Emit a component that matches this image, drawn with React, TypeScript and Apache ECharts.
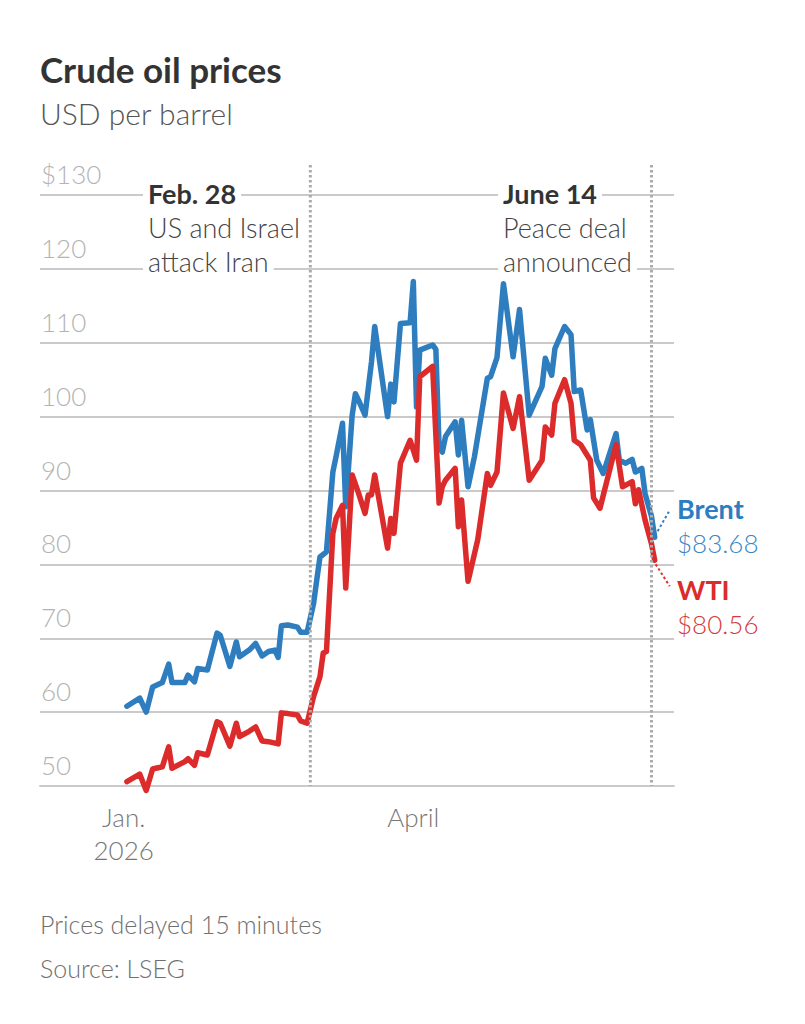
import React, { useEffect, useRef } from "react";
import * as echarts from "echarts";

// ---------- data ----------
const brentDates = [
  "2026-01-02", "2026-01-06", "2026-01-08", "2026-01-10", "2026-01-13", "2026-01-15", "2026-01-16",
  "2026-01-20", "2026-01-21", "2026-01-23", "2026-01-24", "2026-01-27", "2026-01-30", "2026-01-31",
  "2026-02-03", "2026-02-05", "2026-02-06", "2026-02-09", "2026-02-11", "2026-02-13", "2026-02-15",
  "2026-02-17", "2026-02-18", "2026-02-19", "2026-02-21", "2026-02-24", "2026-02-25", "2026-02-27",
  "2026-03-01", "2026-03-02", "2026-03-03", "2026-03-05", "2026-03-07", "2026-03-08", "2026-03-10",
  "2026-03-11", "2026-03-13", "2026-03-14", "2026-03-15", "2026-03-17", "2026-03-19", "2026-03-20",
  "2026-03-24", "2026-03-25", "2026-03-26", "2026-03-28", "2026-03-31", "2026-04-01", "2026-04-02",
  "2026-04-03", "2026-04-07", "2026-04-08", "2026-04-09", "2026-04-10", "2026-04-11", "2026-04-14",
  "2026-04-15", "2026-04-16", "2026-04-18", "2026-04-20", "2026-04-24", "2026-04-25", "2026-04-27",
  "2026-04-29", "2026-05-02", "2026-05-04", "2026-05-07", "2026-05-11", "2026-05-12", "2026-05-14",
  "2026-05-15", "2026-05-18", "2026-05-20", "2026-05-21", "2026-05-23", "2026-05-25", "2026-05-26",
  "2026-05-28", "2026-05-30", "2026-06-03", "2026-06-04", "2026-06-06", "2026-06-08", "2026-06-09",
  "2026-06-11", "2026-06-12", "2026-06-14", "2026-06-15",
];
const brentPrices = [
  60.8, 61.9, 60.0, 63.4, 64.0, 66.5, 64.0,
  64.0, 65.0, 64.1, 65.9, 65.7, 70.7, 70.4,
  66.2, 69.5, 67.5, 68.4, 69.3, 67.6, 68.2,
  68.4, 67.4, 71.7, 71.8, 71.5, 70.8, 70.8,
  74.7, 77.9, 81.0, 81.7, 92.5, 94.6, 99.1,
  87.8, 100.2, 103.1, 102.2, 100.2, 107.4, 112.2,
  100.0, 104.4, 102.0, 112.6, 112.7, 118.3, 101.3,
  109.0, 109.7, 109.1, 95.9, 95.2, 97.3, 99.3,
  94.8, 99.5, 90.5, 94.6, 105.2, 105.4, 108.0,
  118.0, 108.1, 114.5, 100.2, 104.1, 107.9, 105.6,
  109.2, 112.2, 111.1, 103.4, 103.6, 98.2, 99.6,
  94.1, 92.3, 97.7, 94.1, 93.7, 94.2, 92.5,
  93.0, 89.6, 86.5, 83.68,
];

const wtiDates = [
  "2026-01-02", "2026-01-06", "2026-01-08", "2026-01-10", "2026-01-13", "2026-01-15", "2026-01-16",
  "2026-01-20", "2026-01-21", "2026-01-23", "2026-01-24", "2026-01-27", "2026-01-30", "2026-01-31",
  "2026-02-03", "2026-02-05", "2026-02-06", "2026-02-09", "2026-02-11", "2026-02-13", "2026-02-15",
  "2026-02-18", "2026-02-19", "2026-02-21", "2026-02-24", "2026-02-25", "2026-02-27",
  "2026-03-01", "2026-03-03", "2026-03-04", "2026-03-05", "2026-03-07", "2026-03-08", "2026-03-10",
  "2026-03-11", "2026-03-13", "2026-03-15", "2026-03-17", "2026-03-18", "2026-03-19", "2026-03-20",
  "2026-03-24", "2026-03-25", "2026-03-26", "2026-03-28", "2026-03-31", "2026-04-02", "2026-04-03",
  "2026-04-07", "2026-04-09", "2026-04-10", "2026-04-11", "2026-04-14", "2026-04-15", "2026-04-16",
  "2026-04-18", "2026-04-21", "2026-04-24", "2026-04-25", "2026-04-27", "2026-04-29", "2026-05-02",
  "2026-05-04", "2026-05-07", "2026-05-11", "2026-05-12", "2026-05-14", "2026-05-15", "2026-05-18",
  "2026-05-20", "2026-05-21", "2026-05-23", "2026-05-26", "2026-05-27", "2026-05-29", "2026-06-03",
  "2026-06-05", "2026-06-08", "2026-06-09", "2026-06-10", "2026-06-12", "2026-06-14", "2026-06-15",
];
const wtiPrices = [
  50.6, 51.6, 49.4, 52.3, 52.6, 55.3, 52.4,
  53.3, 53.7, 52.8, 54.5, 54.2, 58.7, 58.5,
  55.4, 58.5, 56.7, 57.4, 58.0, 56.1, 56.0,
  55.7, 59.9, 59.8, 59.6, 58.8, 58.5,
  62.1, 64.8, 68.0, 68.2, 84.2, 86.2, 88.0,
  76.8, 92.1, 89.6, 86.9, 89.4, 89.4, 92.1,
  82.2, 86.2, 84.2, 93.7, 96.8, 94.1, 105.4,
  106.8, 88.3, 90.5, 91.4, 93.0, 85.1, 88.7,
  77.7, 83.3, 92.3, 90.7, 92.5, 103.2, 98.4,
  102.7, 91.4, 94.1, 98.6, 97.5, 101.8, 105.0,
  101.8, 96.8, 96.2, 94.1, 89.0, 87.6, 96.2,
  90.5, 91.2, 88.2, 90.1, 86.0, 82.8, 80.56,
];

const xLabelDates = ["2026-01-01", "2026-04-01"];
const xLabelTexts = ["Jan.\n2026", "April"];
const eventDates = ["2026-02-28", "2026-06-14"];
const eventTitles = ["Feb. 28", "June 14"];
const eventLines = [
  ["US and Israel", "attack Iran"],
  ["Peace deal", "announced"],
];
const seriesNames = ["Brent", "WTI"];
const latestLabels = ["$83.68", "$80.56"];

const titleText = "Crude oil prices";
const subtitleText = "USD per barrel";
const footerTexts = ["Prices delayed 15 minutes", "Source: LSEG"];

// ---------- style ----------
const FONT = 'Lato, "Noto Sans", "DejaVu Sans", sans-serif';
const BLUE = "#2e7dbf";
const BLUE_LIGHT = "#3a86c2";
const RED = "#dc2b2b";
const RED_LIGHT = "#d43a3a";
const GRID = "#cacaca";
const eventTextX = [148, 503];

const ts = (d: string) => Date.parse(d + "T00:00:00Z");

export default function App() {
  const ref = useRef<HTMLDivElement>(null);

  useEffect(() => {
    if (!ref.current) return;
    const chart = echarts.init(ref.current, undefined, { renderer: "svg" });

    const xLabelValues = xLabelDates.map(ts);

    chart.setOption({
      animation: false,
      backgroundColor: "#ffffff",
      grid: { left: 40, right: 131, top: 195, bottom: 238, containLabel: false },
      xAxis: {
        type: "value",
        min: ts("2025-12-06"),
        max: ts("2026-06-21"),
        axisLine: { show: true, lineStyle: { color: GRID, width: 2 } },
        axisTick: { show: false },
        splitLine: { show: false },
        axisLabel: {
          customValues: xLabelValues,
          formatter: (v: number) => {
            let best = 0;
            xLabelValues.forEach((t, i) => {
              if (Math.abs(t - v) < Math.abs(xLabelValues[best] - v)) best = i;
            });
            return xLabelTexts[best];
          },
          color: "#777777",
          fontFamily: FONT,
          fontSize: 26,
          fontWeight: 300,
          lineHeight: 33,
          margin: 14,
        },
      },
      yAxis: {
        type: "value",
        min: 50,
        max: 130,
        interval: 10,
        axisLine: { show: false },
        axisTick: { show: false },
        splitLine: { show: true, lineStyle: { color: GRID, width: 2 } },
        axisLabel: {
          inside: true,
          margin: 1,
          verticalAlign: "bottom",
          padding: [0, 0, 8, 0],
          color: "#b3b3b3",
          fontFamily: FONT,
          fontSize: 26,
          fontWeight: 300,
          formatter: (v: number) => (v === 130 ? "$" + v : String(v)),
        },
      },
      series: [
        {
          type: "line",
          name: seriesNames[0],
          data: brentDates.map((d, i) => [ts(d), brentPrices[i]]),
          symbol: "none",
          clip: false,
          z: 3,
          lineStyle: { color: BLUE, width: 5.5, join: "round", cap: "round" },
        },
        {
          type: "line",
          name: seriesNames[1],
          data: wtiDates.map((d, i) => [ts(d), wtiPrices[i]]),
          symbol: "none",
          clip: false,
          z: 4,
          lineStyle: { color: RED, width: 5.5, join: "round", cap: "round" },
        },
      ],
    });

    const px = (d: string, v: number) =>
      chart.convertToPixel({ gridIndex: 0 }, [ts(d), v]) as number[];
    const top = px(eventDates[0], 130)[1];
    const bottom = px(eventDates[0], 50)[1];

    const graphics: any[] = [];
    const text = (
      x: number,
      y: number,
      t: string,
      size: number,
      color: string,
      weight: string | number = "normal",
      bg?: string
    ) => ({
      type: "text",
      x,
      y,
      z: 20,
      style: {
        text: t,
        fill: color,
        font: `${weight} ${size}px ${FONT}`,
        align: "left",
        verticalAlign: "middle",
        backgroundColor: bg,
        padding: bg ? [1, 5, 1, 5] : 0,
      },
    });

    graphics.push(text(40, 69, titleText, 35, "#333333", "bold"));
    graphics.push(text(40, 113, subtitleText, 30, "#555555", 300));

    eventDates.forEach((d, i) => {
      const x = px(d, 130)[0];
      graphics.push({
        type: "line",
        z: 5,
        shape: { x1: x, y1: top - 30, x2: x, y2: bottom },
        style: { stroke: "#ababab", lineWidth: 3, lineDash: [2.5, 2.5] },
      });
      const tx = eventTextX[i] - 5;
      graphics.push(text(tx, 193, eventTitles[i], 27, "#333333", "bold", "#ffffff"));
      eventLines[i].forEach((line, j) => {
        graphics.push(text(tx, 227 + j * 34, line, 27, "#444444", 300, "#ffffff"));
      });
    });

    const pb = px(brentDates[brentDates.length - 1], brentPrices[brentPrices.length - 1]);
    const pw = px(wtiDates[wtiDates.length - 1], wtiPrices[wtiPrices.length - 1]);
    graphics.push({
      type: "line",
      z: 6,
      shape: { x1: pb[0] + 3, y1: pb[1] - 6, x2: pb[0] + 15, y2: pb[1] - 27 },
      style: { stroke: BLUE, lineWidth: 2, lineDash: [2.5, 2.5] },
    });
    graphics.push({
      type: "line",
      z: 6,
      shape: { x1: pw[0] + 1, y1: pw[1] + 4, x2: pw[0] + 15, y2: pw[1] + 26 },
      style: { stroke: RED, lineWidth: 2, lineDash: [2.5, 2.5] },
    });
    graphics.push(text(677, 508, seriesNames[0], 27, BLUE, "bold"));
    graphics.push(text(677, 543, latestLabels[0], 26, BLUE_LIGHT, 300));
    graphics.push(text(677, 589, seriesNames[1], 27, RED, "bold"));
    graphics.push(text(677, 624, latestLabels[1], 26, RED_LIGHT, 300));

    graphics.push(text(40, 924, footerTexts[0], 25, "#6f6f6f", 300));
    graphics.push(text(40, 968, footerTexts[1], 25, "#6f6f6f", 300));

    chart.setOption({ graphic: graphics });

    return () => chart.dispose();
  }, []);

  return (
    <div
      ref={ref}
      style={{ position: "fixed", left: 0, top: 0, width: 805, height: 1024, background: "#fff" }}
    />
  );
}
